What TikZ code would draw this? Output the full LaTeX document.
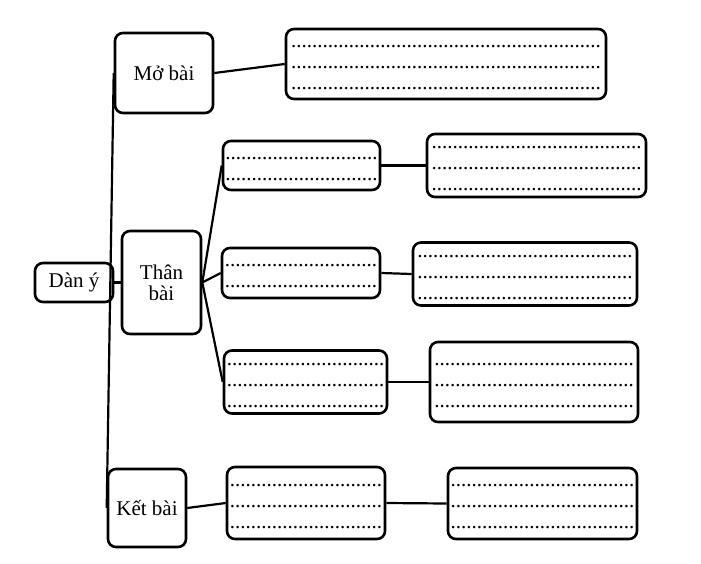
\documentclass[tikz,border=0pt]{standalone}
\usepackage{fontspec}
\setmainfont{Liberation Serif}
\newcommand{\dotrow}[1]{\strut\foreach \i in {1,...,#1}{.}}
\tikzset{
  topic/.style={draw,line width=2.6pt,rounded corners=8pt,
    font=\fontsize{21}{21}\selectfont,align=center,inner sep=0pt},
  dotbox/.style={draw,line width=2.6pt,rounded corners=8pt,
    font=\fontsize{21}{21}\selectfont,align=center,inner sep=0pt},
  link/.style={line width=2.2pt}
}
\begin{document}
\begin{tikzpicture}[x=1pt,y=-1pt]
  \useasboundingbox (0,0) rectangle (701,563);
  % main topics
  \node[topic,minimum width=78,minimum height=39] (dany) at (74,282.5) {Dàn ý};
  \node[topic,minimum width=98,minimum height=80] (mobai) at (164,73) {Mở bài};
  \node[topic,minimum width=79,minimum height=103] (thanbai) at (161.5,282.5) {Thân\\bài};
  \node[topic,minimum width=78,minimum height=78] (ketbai) at (147,508) {Kết bài};
  % dotted boxes
  \node[dotbox,minimum width=320,minimum height=70] (mb) at (446,64)
    {\dotrow{59}\\\dotrow{59}\\\dotrow{59}};
  \node[dotbox,minimum width=157,minimum height=49] (tba) at (301.5,165.5)
    {\dotrow{29}\\\dotrow{29}};
  \node[dotbox,minimum width=219,minimum height=61] (tbb) at (536.5,165.5)
    {\dotrow{40}\\\dotrow{40}\\\dotrow{40}};
  \node[dotbox,minimum width=158,minimum height=50] (tca) at (301,273)
    {\dotrow{29}\\\dotrow{29}};
  \node[dotbox,minimum width=224,minimum height=62] (tcb) at (525,274)
    {\dotrow{41}\\\dotrow{41}\\\dotrow{41}};
  \node[dotbox,minimum width=163,minimum height=62] (tda) at (305.5,382)
    {\dotrow{30}\\\dotrow{30}\\\dotrow{30}};
  \node[dotbox,minimum width=208,minimum height=80] (tdb) at (534,382)
    {\dotrow{38}\\\dotrow{38}\\\dotrow{38}};
  \node[dotbox,minimum width=158,minimum height=72] (kba) at (306,503)
    {\dotrow{29}\\\dotrow{29}\\\dotrow{29}};
  \node[dotbox,minimum width=189,minimum height=71] (kbb) at (542.5,503.5)
    {\dotrow{35}\\\dotrow{35}\\\dotrow{35}};
  % links
  \draw[link] (mobai.west) -- (ketbai.west);
  \draw[link] (dany.east) -- (thanbai.west);
  \draw[link] (mobai.east) -- (mb.west);
  \draw[link] (thanbai.east) -- (tba.west);
  \draw[link] (thanbai.east) -- (tca.west);
  \draw[link] (thanbai.east) -- (tda.west);
  \draw[link] (tba.east) -- (tbb.west);
  \draw[link] (tca.east) -- (tcb.west);
  \draw[link] (tda.east) -- (tdb.west);
  \draw[link] (ketbai.east) -- (kba.west);
  \draw[link] (kba.east) -- (kbb.west);
\end{tikzpicture}
\end{document}
